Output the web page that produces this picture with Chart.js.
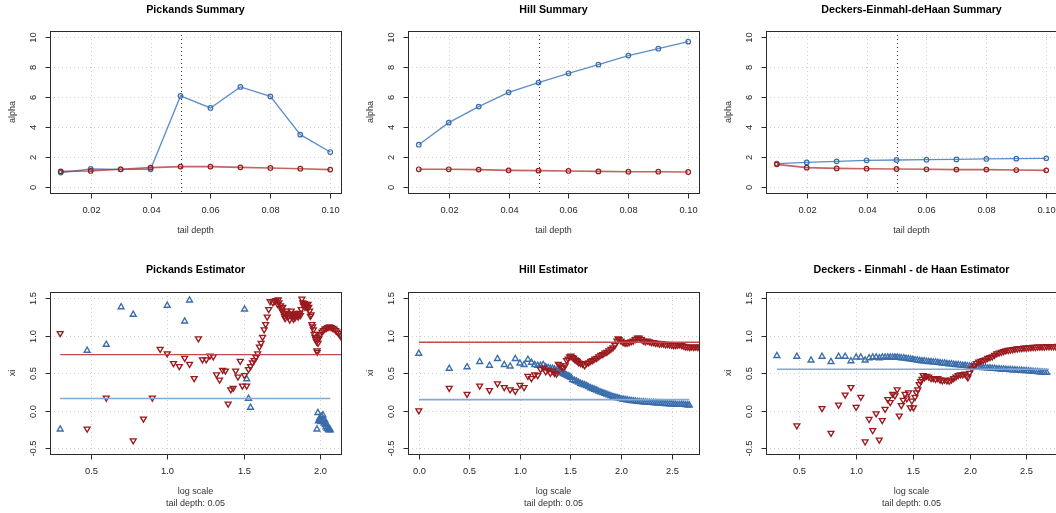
<!DOCTYPE html>
<html><head><meta charset="utf-8">
<script src="https://cdn.jsdelivr.net/npm/chart.js@4.4.0/dist/chart.umd.min.js"></script>
<style>
html,body{margin:0;padding:0;background:#fff;overflow:hidden}
#wrap{position:relative;width:1056px;height:513px;overflow:hidden;background:#fff}
canvas{position:absolute}
</style></head><body><div id="wrap"></div>
<script>
// ---------- data ----------
const tailDepth = [0.01,0.02,0.03,0.04,0.05,0.06,0.07,0.08,0.09,0.10];
const pickandsSumBlue = [0.96,1.20,1.18,1.18,6.07,5.27,6.67,6.04,3.49,2.33];
const pickandsSumRed  = [1.04,1.07,1.18,1.29,1.36,1.36,1.31,1.27,1.22,1.16];
const hillSumBlue = [2.82,4.29,5.36,6.31,6.96,7.58,8.16,8.76,9.22,9.69];
const hillSumRed  = [1.18,1.18,1.16,1.11,1.09,1.07,1.04,1.02,1.02,1.00];
const dedhSumBlue = [1.56,1.64,1.71,1.78,1.80,1.82,1.84,1.87,1.89,1.91];
const dedhSumRed  = [1.51,1.29,1.24,1.22,1.20,1.18,1.16,1.16,1.13,1.11];

const summaryXTicks = [0.02,0.04,0.06,0.08,0.10];
const summaryXLabels = ["0.02","0.04","0.06","0.08","0.10"];
const summaryYTicks = [0,2,4,6,8,10];
const summaryYLabels = ["0","2","4","6","8","10"];
const xiYTicks = [-0.5,0,0.5,1,1.5];
const xiYLabels = ["-0.5","0.0","0.5","1.0","1.5"];
const pickandsXTicks = [0.5,1.0,1.5,2.0];
const pickandsXLabels = ["0.5","1.0","1.5","2.0"];
const hillXTicks = [0,0.5,1.0,1.5,2.0,2.5];
const hillXLabels = ["0.0","0.5","1.0","1.5","2.0","2.5"];
const dedhXTicks = [0.5,1.0,1.5,2.0,2.5];
const dedhXLabels = ["0.5","1.0","1.5","2.0","2.5"];

// estimator points: [log scale, xi]
const pickandsBlue = [[0.301,-0.25],[0.477,0.80],[0.602,0.88],[0.699,1.38],[0.778,1.28],[1.0,1.40],[1.114,1.19],[1.146,1.47],
 [1.505,1.35],[1.519,0.42],[1.531,0.16],[1.544,0.04],
 [1.978,-0.25],[1.984,-0.03],[1.988,-0.14],[1.992,-0.13],[1.996,-0.10],[2.0,-0.12],[2.004,-0.15],[2.008,-0.08],[2.012,-0.14],
 [2.017,-0.06],[2.021,-0.12],[2.025,-0.17],[2.029,-0.13],[2.033,-0.19],[2.037,-0.22],[2.041,-0.18],[2.045,-0.24],[2.049,-0.22],
 [2.053,-0.25],[2.057,-0.26],[2.061,-0.25],[2.065,-0.26]];
const pickandsRed = [[0.301,1.03],[0.477,-0.245],[0.602,0.17],[0.778,-0.40],[0.845,-0.11],[0.903,0.17],[0.954,0.82],[1.0,0.76],
 [1.041,0.63],[1.079,0.59],[1.114,0.70],[1.146,0.62],[1.176,0.43],[1.204,0.96],[1.230,0.68],[1.255,0.68],[1.279,0.73],[1.301,0.72],
 [1.322,0.48],[1.342,0.41],[1.362,0.54],[1.380,0.53],[1.398,0.09],[1.415,0.28],[1.431,0.30],[1.447,0.53],[1.462,0.45],[1.477,0.66],
 [1.491,0.33],[1.505,0.47],[1.519,0.33],[1.531,0.55],[1.544,0.59],[1.556,0.64],[1.568,0.67],[1.580,0.71],[1.591,0.76],[1.602,0.85],
 [1.613,0.90],[1.623,0.98],[1.633,1.08],[1.643,1.15],[1.653,1.25],[1.663,1.35],[1.672,1.455],[1.69,1.44],
 [1.70,1.46],[1.71,1.47],[1.72,1.42],[1.725,1.48],[1.73,1.44],[1.74,1.40],[1.745,1.36],[1.75,1.33],[1.755,1.38],[1.76,1.30],
 [1.765,1.26],[1.77,1.23],[1.775,1.28],[1.78,1.33],[1.785,1.30],[1.79,1.25],[1.80,1.21],[1.805,1.27],[1.81,1.33],[1.815,1.29],
 [1.82,1.25],[1.825,1.22],[1.83,1.28],[1.835,1.24],[1.84,1.27],[1.845,1.30],[1.85,1.27],[1.855,1.25],[1.86,1.28],[1.865,1.30],
 [1.87,1.27],[1.875,1.35],[1.88,1.49],[1.885,1.44],[1.89,1.40],[1.895,1.43],[1.90,1.38],[1.905,1.42],[1.91,1.40],[1.915,1.37],
 [1.92,1.42],[1.925,1.38],[1.93,1.33],[1.935,1.26],[1.94,1.28],[1.945,1.15],[1.95,1.12],[1.955,1.08],[1.96,1.02],[1.965,0.98],
 [1.97,0.95],[1.975,0.92],[1.978,0.80],[1.98,0.78],[1.985,0.90],[1.99,0.96],[1.995,1.0],[2.0,1.02],[2.01,1.05],[2.02,1.07],
 [2.03,1.09],[2.04,1.10],[2.05,1.11],[2.06,1.12],[2.07,1.11],[2.08,1.10],[2.09,1.09],[2.10,1.07],[2.11,1.05],[2.12,1.03],
 [2.13,1.00],[2.14,0.97],[2.15,0.95]];
const pickandsMeanRed = 0.745, pickandsMeanBlue = 0.16;

const hillBlue = [[0,0.76],[0.301,0.56],[0.477,0.58],[0.602,0.65],[0.699,0.60],[0.778,0.69],[0.845,0.61],[0.903,0.59],[0.954,0.69],
 [1.0,0.63],[1.041,0.61],[1.079,0.68],[1.114,0.64],[1.146,0.61],[1.176,0.60],[1.204,0.60],[1.23,0.61],[1.255,0.58],[1.279,0.57],
 [1.301,0.56],[1.322,0.56],[1.342,0.55],[1.362,0.53],[1.38,0.52],[1.398,0.51],[1.415,0.50],[1.431,0.49],[1.447,0.48],[1.462,0.47],
 [1.477,0.46],[1.491,0.45],[1.505,0.44],[1.52,0.41],[1.54,0.40],[1.56,0.39],[1.58,0.375],[1.60,0.36],[1.62,0.35],[1.64,0.34],
 [1.66,0.33],[1.68,0.315],[1.70,0.30],[1.72,0.29],[1.74,0.28],[1.76,0.27],[1.78,0.255],[1.80,0.245],[1.82,0.235],[1.84,0.225],
 [1.86,0.215],[1.88,0.205],[1.90,0.195],[1.92,0.185],[1.94,0.178],[1.96,0.17],[1.98,0.162],[2.00,0.155],[2.02,0.15],[2.04,0.145],
 [2.06,0.14],[2.08,0.135],[2.10,0.13],[2.12,0.127],[2.14,0.124],[2.16,0.12],[2.18,0.118],[2.20,0.115],[2.22,0.113],[2.24,0.11],
 [2.26,0.108],[2.28,0.106],[2.30,0.105],[2.32,0.103],[2.34,0.10],[2.36,0.10],[2.38,0.097],[2.40,0.095],[2.42,0.093],[2.44,0.09],
 [2.46,0.088],[2.48,0.086],[2.50,0.085],[2.52,0.082],[2.54,0.08],[2.56,0.078],[2.58,0.078],[2.60,0.08],[2.62,0.078],[2.64,0.075],
 [2.66,0.072],[2.675,0.07]];
const hillRed = [[0,0.0],[0.301,0.30],[0.477,0.22],[0.602,0.33],[0.699,0.27],[0.778,0.36],[0.845,0.31],[0.903,0.28],[0.954,0.26],
 [1.0,0.34],[1.041,0.31],[1.079,0.46],[1.114,0.43],[1.146,0.48],[1.176,0.47],[1.204,0.55],[1.23,0.57],[1.255,0.52],[1.279,0.54],
 [1.301,0.50],[1.322,0.53],[1.342,0.50],[1.362,0.49],[1.38,0.62],[1.398,0.60],[1.415,0.58],[1.431,0.57],[1.447,0.60],[1.462,0.67],
 [1.477,0.69],[1.491,0.72],[1.505,0.73],[1.519,0.71],[1.531,0.70],[1.544,0.68],[1.556,0.67],[1.568,0.66],[1.58,0.64],[1.60,0.63],
 [1.62,0.62],[1.64,0.60],[1.66,0.63],[1.68,0.64],[1.70,0.66],[1.72,0.67],[1.74,0.69],[1.76,0.70],[1.78,0.72],[1.80,0.74],
 [1.82,0.75],[1.84,0.77],[1.86,0.78],[1.88,0.80],[1.90,0.82],[1.92,0.84],[1.94,0.87],[1.96,0.93],[1.97,0.96],[1.98,0.95],
 [2.00,0.93],[2.02,0.91],[2.04,0.90],[2.06,0.90],[2.08,0.91],[2.10,0.92],[2.12,0.93],[2.14,0.95],[2.16,0.97],[2.18,0.97],
 [2.20,0.95],[2.22,0.93],[2.24,0.92],[2.26,0.93],[2.28,0.92],[2.30,0.91],[2.32,0.91],[2.34,0.90],[2.36,0.90],[2.38,0.89],
 [2.40,0.895],[2.42,0.89],[2.44,0.88],[2.46,0.885],[2.48,0.88],[2.50,0.875],[2.52,0.87],[2.54,0.87],[2.56,0.875],[2.58,0.88],
 [2.60,0.87],[2.62,0.86],[2.64,0.85],[2.66,0.85],[2.68,0.845],[2.70,0.85],[2.72,0.845],[2.74,0.85],[2.76,0.845],[2.78,0.85]];
const hillMeanRed = 0.91, hillMeanBlue = 0.145;

const dedhBlue = [[0.301,0.73],[0.477,0.72],[0.602,0.67],[0.699,0.72],[0.778,0.65],[0.845,0.72],[0.903,0.72],[0.954,0.66],
 [1.0,0.71],[1.041,0.71],[1.079,0.67],[1.114,0.70],[1.146,0.71],[1.176,0.71],[1.204,0.70],[1.23,0.71],[1.255,0.71],[1.279,0.71],
 [1.301,0.71],[1.322,0.71],[1.342,0.71],[1.362,0.71],[1.38,0.705],[1.398,0.70],[1.42,0.70],[1.44,0.695],[1.46,0.69],[1.48,0.685],
 [1.50,0.68],[1.52,0.675],[1.54,0.67],[1.56,0.665],[1.58,0.66],[1.60,0.66],[1.62,0.655],[1.64,0.65],[1.66,0.65],[1.68,0.645],
 [1.70,0.645],[1.72,0.64],[1.74,0.635],[1.76,0.63],[1.78,0.63],[1.80,0.625],[1.82,0.62],[1.84,0.62],[1.86,0.615],[1.88,0.61],
 [1.90,0.61],[1.92,0.605],[1.94,0.60],[1.96,0.60],[1.98,0.595],[2.00,0.59],[2.02,0.59],[2.04,0.585],[2.06,0.58],[2.08,0.58],
 [2.10,0.575],[2.12,0.57],[2.14,0.57],[2.16,0.565],[2.18,0.565],[2.20,0.56],[2.22,0.56],[2.24,0.555],[2.26,0.555],[2.28,0.55],
 [2.30,0.55],[2.32,0.548],[2.34,0.545],[2.36,0.543],[2.38,0.54],[2.40,0.54],[2.42,0.538],[2.44,0.535],[2.46,0.532],[2.48,0.53],
 [2.50,0.53],[2.52,0.527],[2.54,0.525],[2.56,0.52],[2.58,0.518],[2.60,0.515],[2.62,0.512],[2.64,0.51],[2.66,0.508],[2.68,0.505]];
const dedhRed = [[0.477,-0.20],[0.699,0.03],[0.778,-0.30],[0.845,0.075],[0.903,0.21],[0.954,0.31],[1.0,0.045],[1.041,0.18],
 [1.079,-0.415],[1.114,-0.115],[1.146,-0.265],[1.176,-0.04],[1.204,-0.39],[1.23,-0.13],[1.255,0.02],[1.279,0.15],[1.301,0.11],
 [1.322,0.22],[1.342,0.20],[1.362,0.28],[1.38,-0.07],[1.398,0.07],[1.415,0.14],[1.431,0.22],[1.447,0.16],[1.462,0.24],[1.477,0.04],
 [1.491,0.13],[1.505,0.04],[1.519,0.18],[1.531,0.24],[1.544,0.28],[1.556,0.35],[1.568,0.39],[1.58,0.42],[1.591,0.47],[1.602,0.44],
 [1.62,0.46],[1.64,0.45],[1.66,0.43],[1.68,0.43],[1.70,0.42],[1.72,0.43],[1.74,0.41],[1.76,0.40],[1.78,0.41],[1.80,0.40],
 [1.82,0.395],[1.84,0.41],[1.86,0.43],[1.88,0.45],[1.90,0.47],[1.92,0.48],[1.94,0.48],[1.96,0.49],[1.975,0.46],[1.985,0.44],
 [2.00,0.50],[2.02,0.56],[2.04,0.60],[2.06,0.63],[2.08,0.65],[2.10,0.66],[2.12,0.67],[2.14,0.68],[2.16,0.70],[2.18,0.71],
 [2.20,0.72],[2.22,0.74],[2.24,0.76],[2.26,0.77],[2.28,0.78],[2.30,0.79],[2.32,0.80],[2.34,0.805],[2.36,0.81],[2.38,0.815],
 [2.40,0.82],[2.42,0.825],[2.44,0.83],[2.46,0.83],[2.48,0.835],[2.50,0.835],[2.52,0.84],[2.54,0.84],[2.56,0.845],[2.58,0.845],
 [2.60,0.85],[2.62,0.85],[2.64,0.85],[2.66,0.85],[2.68,0.855],[2.70,0.855],[2.72,0.855],[2.74,0.855],[2.76,0.855],[2.78,0.86]];
const dedhMeanBlue = 0.55;

// ---------- styling ----------
const FONT = '"Liberation Sans", Arial, Helvetica, sans-serif';
const BLUE_MARK = '#3a6dab', RED_MARK = '#9a1a1e';
const BLUE_LINE = '#5d8dc8', RED_LINE = 'rgba(176,50,50,0.75)';
const BLUE_H = '#82a8d6', RED_H = '#c44a4a';

function pts(xs, ys){ return xs.map((x,i)=>({x:x, y:ys[i]})); }
function pairs(a){ return a.map(p=>({x:p[0], y:p[1]})); }

function makeFrame(cfg){
  return {
    id: 'rFrame',
    beforeDatasetsDraw(chart){
      const {ctx, chartArea:a, scales} = chart; const x = scales.x, y = scales.y;
      ctx.save(); ctx.lineWidth = 1; ctx.strokeStyle = '#d0d0d0'; ctx.setLineDash([1,3]);
      ctx.beginPath();
      cfg.xTicks.forEach(v=>{ const p=Math.round(x.getPixelForValue(v))+0.5; ctx.moveTo(p,a.top); ctx.lineTo(p,a.bottom); });
      cfg.yTicks.forEach(v=>{ const p=Math.round(y.getPixelForValue(v))+0.5; ctx.moveTo(a.left,p); ctx.lineTo(a.right,p); });
      ctx.stroke();
      if (cfg.vline !== undefined){
        ctx.strokeStyle = '#333'; ctx.beginPath();
        const p=Math.round(x.getPixelForValue(cfg.vline))+0.5; ctx.moveTo(p,a.top); ctx.lineTo(p,a.bottom); ctx.stroke();
      }
      ctx.restore();
    },
    afterDraw(chart){
      const {ctx, chartArea:a, scales} = chart; const x = scales.x, y = scales.y;
      ctx.save(); ctx.setLineDash([]); ctx.lineWidth = 1; ctx.strokeStyle = '#2a2a2a';
      const L=Math.round(a.left)+0.5, R=Math.round(a.right)+0.5, T=Math.round(a.top)+0.5, B=Math.round(a.bottom)+0.5;
      ctx.strokeRect(L,T,R-L,B-T);
      const xp = cfg.xTicks.map(v=>Math.round(x.getPixelForValue(v))+0.5);
      const yp = cfg.yTicks.map(v=>Math.round(y.getPixelForValue(v))+0.5);
      ctx.beginPath();
      ctx.moveTo(xp[0],B); ctx.lineTo(xp[xp.length-1],B);
      xp.forEach(p=>{ ctx.moveTo(p,B); ctx.lineTo(p,B+5); });
      ctx.moveTo(L,yp[0]); ctx.lineTo(L,yp[yp.length-1]);
      yp.forEach(p=>{ ctx.moveTo(L,p); ctx.lineTo(L-5,p); });
      ctx.stroke();
      ctx.fillStyle = '#262626'; ctx.font = '9.3px '+FONT; ctx.textAlign='center'; ctx.textBaseline='middle';
      xp.forEach((p,i)=>ctx.fillText(cfg.xLabels[i], p, a.bottom+17.5));
      yp.forEach((p,i)=>{ ctx.save(); ctx.translate(a.left-17, p); ctx.rotate(-Math.PI/2); ctx.fillText(cfg.yLabels[i],0,0); ctx.restore(); });
      ctx.fillStyle = '#000'; ctx.font = 'bold 10.7px '+FONT;
      ctx.fillText(cfg.title, (a.left+a.right)/2, 10.5);
      ctx.fillStyle = '#333'; ctx.font = '9px '+FONT;
      cfg.xlab.forEach((s,i)=>ctx.fillText(s, (a.left+a.right)/2, cfg.xlabY[i]));
      ctx.save(); ctx.translate(12.5,(a.top+a.bottom)/2); ctx.rotate(-Math.PI/2); ctx.fillText(cfg.ylab,0,0); ctx.restore();
      ctx.restore();
    }
  };
}

const wrap = document.getElementById('wrap');
function panel(cfg){
  const c = document.createElement('canvas');
  c.width = 358; c.height = 260; c.style.width='358px'; c.style.height='260px';
  c.style.left = cfg.left+'px'; c.style.top = cfg.top+'px';
  wrap.appendChild(c);
  new Chart(c, {
    type: 'line',
    data: { datasets: cfg.datasets },
    options: {
      responsive:false, animation:false, devicePixelRatio:1,
      layout:{ padding: cfg.pad },
      plugins:{ legend:{display:false}, tooltip:{enabled:false} },
      elements:{ line:{ tension:0 } },
      scales:{
        x:{ type:'linear', display:false, min:cfg.xMin, max:cfg.xMax },
        y:{ type:'linear', display:false, min:cfg.yMin, max:cfg.yMax }
      }
    },
    plugins:[makeFrame(cfg)]
  });
}

function summarySets(blue, red){
  return [
    { data: pts(tailDepth, red), borderColor: RED_LINE, borderWidth: 1.6, pointStyle:'circle', pointRadius: 2.3,
      pointBorderColor: RED_MARK, pointBackgroundColor:'rgba(0,0,0,0)', pointBorderWidth: 1.2, fill:false },
    { data: pts(tailDepth, blue), borderColor: BLUE_LINE, borderWidth: 1.3, pointStyle:'circle', pointRadius: 2.3,
      pointBorderColor: BLUE_MARK, pointBackgroundColor:'rgba(0,0,0,0)', pointBorderWidth: 1.2, fill:false }
  ];
}
function hline(v, x0, x1, color, w){
  return { data:[{x:x0,y:v},{x:x1,y:v}], borderColor:color, borderWidth:w, pointRadius:0, fill:false };
}
function markers(arr, color, down){
  return { data: pairs(arr), showLine:false, pointStyle:'triangle', pointRadius:3.4, pointRotation: down?180:0,
    pointBorderColor: color, pointBackgroundColor:'rgba(0,0,0,0)', pointBorderWidth:1.35 };
}

const topPad = {left:50, right:17, top:31, bottom:67};
const botPad = {left:50, right:17, top:32, bottom:66};
const sumBase = { xMin:0.0064, xMax:0.1036, yMin:-0.4, yMax:10.4, xTicks:summaryXTicks, xLabels:summaryXLabels,
  yTicks:summaryYTicks, yLabels:summaryYLabels, vline:0.05, xlab:['tail depth'], xlabY:[231], ylab:'alpha', pad:topPad, top:0 };
const estBase = { yMin:-0.58, yMax:1.58, yTicks:xiYTicks, yLabels:xiYLabels, xlab:['log scale','tail depth: 0.05'],
  xlabY:[232,243.5], ylab:'xi', pad:botPad, top:260 };

panel(Object.assign({}, sumBase, { left:0, title:'Pickands Summary', datasets: summarySets(pickandsSumBlue, pickandsSumRed) }));
panel(Object.assign({}, sumBase, { left:358, title:'Hill Summary', datasets: summarySets(hillSumBlue, hillSumRed) }));
panel(Object.assign({}, sumBase, { left:716, title:'Deckers-Einmahl-deHaan Summary', datasets: summarySets(dedhSumBlue, dedhSumRed) }));

panel(Object.assign({}, estBase, { left:0, title:'Pickands Estimator', xMin:0.2345, xMax:2.135,
  xTicks:pickandsXTicks, xLabels:pickandsXLabels,
  datasets:[ hline(pickandsMeanRed,0.301,2.5,RED_H,1.3), hline(pickandsMeanBlue,0.301,2.065,BLUE_H,1.6),
    markers(pickandsRed, RED_MARK, true), markers(pickandsBlue, BLUE_MARK, false) ] }));
panel(Object.assign({}, estBase, { left:358, title:'Hill Estimator', xMin:-0.107, xMax:2.771,
  xTicks:hillXTicks, xLabels:hillXLabels,
  datasets:[ hline(hillMeanRed,0,2.9,RED_H,1.3), hline(hillMeanBlue,0,2.676,BLUE_H,1.6),
    markers(hillRed, RED_MARK, true), markers(hillBlue, BLUE_MARK, false) ] }));
panel(Object.assign({}, estBase, { left:716, title:'Deckers - Einmahl - de Haan Estimator', xMin:0.205, xMax:2.771,
  xTicks:dedhXTicks, xLabels:dedhXLabels,
  datasets:[ hline(dedhMeanBlue,0.301,2.70,BLUE_H,1.6),
    markers(dedhRed, RED_MARK, true), markers(dedhBlue, BLUE_MARK, false) ] }));
</script>
</body></html>
